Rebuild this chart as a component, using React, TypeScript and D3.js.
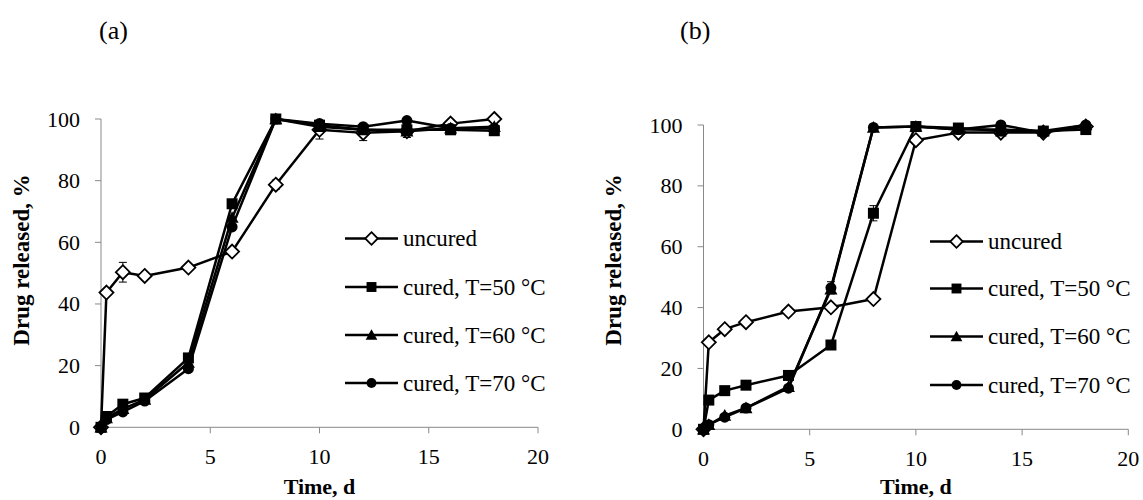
import React from "react";
import * as d3 from "d3";

const times = [0, 0.25, 1, 2, 4, 6, 8, 10, 12, 14, 16, 18];
const seriesNames = ["uncured", "cured, T=50 °C", "cured, T=60 °C", "cured, T=70 °C"];
const markerKinds = ["diamond", "square", "triangle", "circle"];

const uncuredA = [0, 43.7, 50.3, 49.1, 51.8, 57, 78.7, 96.5, 95.5, 96, 98.5, 100];
const cured50A = [0, 3.5, 7.5, 9.5, 22.5, 72.5, 100, 98, 96.5, 96.5, 96.5, 96.2];
const cured60A = [0, 3, 6, 9, 21, 68, 100, 97.5, 96.5, 96, 97, 97.5];
const cured70A = [0, 2.5, 5, 8.5, 19, 65, 100, 98.5, 97.5, 99.5, 97, 97];
const errUncuredA = [0, 0, 3.2, 0, 0, 0, 1.5, 3, 2.5, 2, 0, 0];

const uncuredB = [0, 28.6, 32.9, 35.2, 38.7, 40.1, 42.8, 95, 97.5, 97.5, 97.5, 99.5];
const cured50B = [0, 9.6, 12.7, 14.5, 17.7, 27.7, 71, 99.5, 99, 98, 98, 98.5];
const cured60B = [0, 1.5, 4.5, 7, 14, 46, 99.2, 99.5, 98.5, 98.5, 98, 100];
const cured70B = [0, 1.5, 4, 7, 13.5, 46.5, 99.2, 99.5, 98.5, 100, 97.5, 100];
const err50B = [0, 0, 0, 0, 0, 0, 2.5, 0, 0, 0, 0, 0];
const err70B = [0, 0, 0, 0, 0, 2, 0, 0, 0, 0, 0, 0];

const xTicks = [0, 5, 10, 15, 20];
const yTicks = [0, 20, 40, 60, 80, 100];

const FONT = "Liberation Serif, Times New Roman, Times, DejaVu Serif, serif";
const AXIS = "#898989";

function Marker({ kind, x, y, s = 1 }: { kind: string; x: number; y: number; s?: number }) {
  if (kind === "diamond") {
    const h = 7 * s;
    return (
      <path
        d={`M${x},${y - h}L${x + h},${y}L${x},${y + h}L${x - h},${y}Z`}
        fill="#fff"
        stroke="#000"
        strokeWidth={1.8}
      />
    );
  }
  if (kind === "square") {
    const h = 5.5 * s;
    return <rect x={x - h} y={y - h} width={2 * h} height={2 * h} fill="#000" />;
  }
  if (kind === "triangle") {
    const h = 6.5 * s;
    return <path d={`M${x},${y - h}L${x + h},${y + h * 0.8}L${x - h},${y + h * 0.8}Z`} fill="#000" />;
  }
  return <circle cx={x} cy={y} r={5.5 * s} fill="#000" />;
}

type PanelProps = {
  label: string;
  labelX: number;
  x0: number;
  x1: number;
  y0: number;
  y1: number;
  series: number[][];
  errors: number[][];
  yTitleX: number;
  legendX: number;
  legendYs: number[];
};

function Panel(p: PanelProps) {
  const x = d3.scaleLinear().domain([0, 20]).range([p.x0, p.x1]);
  const y = d3.scaleLinear().domain([0, 100]).range([p.y0, p.y1]);
  const line = d3
    .line<number>()
    .x((_, i) => x(times[i]))
    .y((d) => y(d));
  const txt = { fontFamily: FONT } as React.CSSProperties;
  return (
    <g>
      <text x={p.labelX} y={39} style={txt} fontSize={26}>
        {p.label}
      </text>
      <line x1={p.x0} x2={p.x0} y1={y(0)} y2={y(100)} stroke={AXIS} strokeWidth={1} />
      <line x1={p.x0} x2={p.x1} y1={y(0)} y2={y(0)} stroke={AXIS} strokeWidth={1} />
      {yTicks.map((t) => (
        <g key={"y" + t}>
          <line x1={p.x0 - 6} x2={p.x0} y1={y(t)} y2={y(t)} stroke={AXIS} />
          <text x={p.x0 - 21} y={y(t) + 7.5} textAnchor="end" style={txt} fontSize={22} fill="#000">
            {t}
          </text>
        </g>
      ))}
      {xTicks.map((t) => (
        <g key={"x" + t}>
          <line x1={x(t)} x2={x(t)} y1={y(0)} y2={y(0) + 6} stroke={AXIS} />
          <text x={x(t)} y={y(0) + 36.5} textAnchor="middle" style={txt} fontSize={22}>
            {t}
          </text>
        </g>
      ))}
      <text x={(p.x0 + p.x1) / 2} y={494} textAnchor="middle" style={txt} fontSize={22} fontWeight="bold">
        Time, d
      </text>
      <text
        transform={`translate(${p.yTitleX},260) rotate(-90)`}
        textAnchor="middle"
        style={txt}
        fontSize={23}
        fontWeight="bold"
      >
        Drug released, %
      </text>
      {p.series.map((vals, si) => (
        <g key={"s" + si}>
          <path d={line(vals) || ""} fill="none" stroke="#000" strokeWidth={2.5} strokeLinejoin="round" />
          {vals.map((v, i) => {
            const e = p.errors[si][i];
            if (!e) return null;
            const cx = x(times[i]);
            return (
              <g key={"e" + i}>
                <line x1={cx} x2={cx} y1={y(v - e)} y2={y(v + e)} stroke="#000" strokeWidth={1} />
                <line x1={cx - 4} x2={cx + 4} y1={y(v - e)} y2={y(v - e)} stroke="#000" strokeWidth={1} />
                <line x1={cx - 4} x2={cx + 4} y1={y(v + e)} y2={y(v + e)} stroke="#000" strokeWidth={1} />
              </g>
            );
          })}
          {vals.map((v, i) => (
            <Marker key={"m" + i} kind={markerKinds[si]} x={x(times[i])} y={y(v)} />
          ))}
        </g>
      ))}
      {seriesNames.map((n, i) => (
        <g key={"l" + i}>
          <line
            x1={p.legendX}
            x2={p.legendX + 53}
            y1={p.legendYs[i]}
            y2={p.legendYs[i]}
            stroke="#000"
            strokeWidth={2.5}
          />
          <Marker kind={markerKinds[i]} x={p.legendX + 26.5} y={p.legendYs[i]} s={0.9} />
          <text x={p.legendX + 58} y={p.legendYs[i] + 7.5} style={txt} fontSize={23}>
            {n}
          </text>
        </g>
      ))}
    </g>
  );
}

export default function App() {
  const zeros = times.map(() => 0);
  return (
    <svg width={1143} height={500} style={{ position: "absolute", left: 0, top: 0, background: "#fff" }}>
      <rect width={1143} height={500} fill="#fff" />
      <Panel
        label="(a)"
        labelX={99}
        x0={101}
        x1={538}
        y0={427.3}
        y1={119}
        series={[uncuredA, cured50A, cured60A, cured70A]}
        errors={[errUncuredA, zeros, zeros, zeros]}
        yTitleX={29}
        legendX={345}
        legendYs={[238.5, 287, 335, 383]}
      />
      <Panel
        label="(b)"
        labelX={680}
        x0={703.5}
        x1={1128.3}
        y0={429.3}
        y1={125}
        series={[uncuredB, cured50B, cured60B, cured70B]}
        errors={[zeros, err50B, zeros, err70B]}
        yTitleX={621}
        legendX={930}
        legendYs={[241.5, 288.5, 336.5, 385]}
      />
    </svg>
  );
}
